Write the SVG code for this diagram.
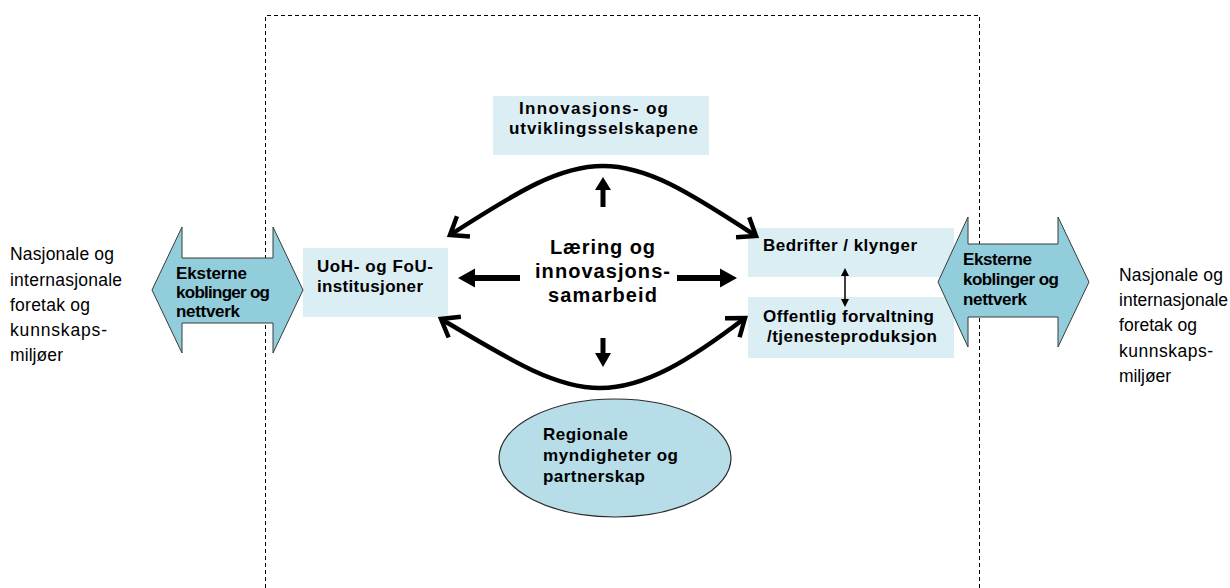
<svg xmlns="http://www.w3.org/2000/svg" width="1230" height="588" viewBox="0 0 1230 588">
  <style>
    .box { fill: #DBEEF4; stroke: none; }
    .blk { fill: #92CDDC; stroke: #3a3a3a; stroke-width: 1; }
    .ell { fill: #B6DDE8; stroke: #2a2a2a; stroke-width: 1.2; }
    .lbl { font-family: "Liberation Sans", Arial, sans-serif; font-weight: bold; font-size: 17px; fill: #000; }
    .mid { font-family: "Liberation Sans", Arial, sans-serif; font-weight: bold; font-size: 20px; fill: #000; }
    .ext { font-family: "Liberation Sans", Arial, sans-serif; font-size: 17.5px; fill: #000; }
    .frame { fill: none; stroke: #000; stroke-width: 1; stroke-dasharray: 4 3; }
    .arc { fill: none; stroke: #000; stroke-width: 4.5; marker-start: url(#chev); marker-end: url(#chev); }
    .solid { fill: #000; stroke: none; }
  </style>
  <defs>
    <marker id="chev" viewBox="-24 -15 28 30" refX="0" refY="0" markerWidth="28" markerHeight="30" markerUnits="userSpaceOnUse" orient="auto-start-reverse" overflow="visible">
      <path d="M-16,-12 L0,0 L-16,12" fill="none" stroke="#000" stroke-width="4.5" stroke-linejoin="miter"/>
    </marker>
  </defs>

  <rect width="1230" height="588" fill="#fff"/>

  <!-- regional boundary (open at the bottom) -->
  <path class="frame" d="M265.5,588 V15.5 H979.5 V588"/>

  <!-- outside actors -->
  <g id="ext-left">
    <text class="ext" x="10" y="260" textLength="104" lengthAdjust="spacing">Nasjonale og</text>
    <text class="ext" x="10" y="286" textLength="112" lengthAdjust="spacing">internasjonale</text>
    <text class="ext" x="10" y="311" textLength="80" lengthAdjust="spacing">foretak og</text>
    <text class="ext" x="10" y="336" textLength="97" lengthAdjust="spacing">kunnskaps-</text>
    <text class="ext" x="10" y="361" textLength="53" lengthAdjust="spacing">miljøer</text>
  </g>
  <g id="ext-right">
    <text class="ext" x="1119" y="281" textLength="104" lengthAdjust="spacing">Nasjonale og</text>
    <text class="ext" x="1119" y="306" textLength="109" lengthAdjust="spacing">internasjonale</text>
    <text class="ext" x="1119" y="331" textLength="78" lengthAdjust="spacing">foretak og</text>
    <text class="ext" x="1119" y="357" textLength="94" lengthAdjust="spacing">kunnskaps-</text>
    <text class="ext" x="1119" y="382" textLength="52" lengthAdjust="spacing">miljøer</text>
  </g>

  <!-- actors inside the region -->
  <g id="innovasjon">
    <rect class="box" x="493" y="96" width="216" height="59"/>
    <text class="lbl" x="519" y="114" textLength="149" lengthAdjust="spacing">Innovasjons- og</text>
    <text class="lbl" x="509" y="134" textLength="189" lengthAdjust="spacing">utviklingsselskapene</text>
  </g>
  <g id="uoh">
    <rect class="box" x="303" y="248" width="145" height="69"/>
    <text class="lbl" x="317" y="272" textLength="116" lengthAdjust="spacing">UoH- og FoU-</text>
    <text class="lbl" x="317" y="292" textLength="106" lengthAdjust="spacing">institusjoner</text>
  </g>
  <g id="bedrifter">
    <rect class="box" x="748" y="228" width="206" height="49"/>
    <text class="lbl" x="763" y="251" textLength="154" lengthAdjust="spacing">Bedrifter / klynger</text>
  </g>
  <g id="offentlig">
    <rect class="box" x="748" y="297" width="206" height="61"/>
    <text class="lbl" x="763" y="322" textLength="171" lengthAdjust="spacing">Offentlig forvaltning</text>
    <text class="lbl" x="767" y="342" textLength="170" lengthAdjust="spacing">/tjenesteproduksjon</text>
  </g>
  <g id="regionale">
    <ellipse class="ell" cx="615" cy="458" rx="116" ry="59"/>
    <text class="lbl" x="543" y="440" textLength="85" lengthAdjust="spacing">Regionale</text>
    <text class="lbl" x="543" y="461" textLength="135" lengthAdjust="spacing">myndigheter og</text>
    <text class="lbl" x="543" y="482" textLength="102" lengthAdjust="spacing">partnerskap</text>
  </g>
  <g id="laering">
    <text class="mid" x="550" y="254" textLength="105" lengthAdjust="spacing">Læring og</text>
    <text class="mid" x="535" y="278" textLength="135" lengthAdjust="spacing">innovasjons-</text>
    <text class="mid" x="548" y="302" textLength="109" lengthAdjust="spacing">samarbeid</text>
  </g>

  <!-- external links (block double arrows) -->
  <g id="links-left">
    <polygon class="blk" points="152,290 182,227 182,258 273,258 273,227 303,290 273,353 273,323 182,323 182,353"/>
    <text class="lbl" x="176" y="279" textLength="71" lengthAdjust="spacing">Eksterne</text>
    <text class="lbl" x="176" y="298" textLength="94" lengthAdjust="spacing">koblinger og</text>
    <text class="lbl" x="176" y="317" textLength="64" lengthAdjust="spacing">nettverk</text>
  </g>
  <g id="links-right">
    <polygon class="blk" points="938,282 968,217 968,244 1058,244 1058,217 1089,282 1058,347 1058,317 968,317 968,347"/>
    <text class="lbl" x="963" y="265" textLength="69" lengthAdjust="spacing">Eksterne</text>
    <text class="lbl" x="963" y="285" textLength="96" lengthAdjust="spacing">koblinger og</text>
    <text class="lbl" x="963" y="305" textLength="64" lengthAdjust="spacing">nettverk</text>
  </g>

  <!-- connectors -->
  <g id="connectors">
    <path class="arc" d="M450,235 C520,190 560,166 603,166 C646,166 686,190 756,236"/>
    <path class="arc" d="M441,319 C510,360 555,388 600,388 C645,388 690,360 745,318"/>
    <polygon class="solid" points="458,278 475,268.5 475,275 520,275 520,281 475,281 475,287.5"/>
    <polygon class="solid" points="737,278 720,268.5 720,275 677,275 677,281 720,281 720,287.5"/>
    <polygon class="solid" points="603,177 595,190 600.5,190 600.5,207 605.5,207 605.5,190 611,190"/>
    <polygon class="solid" points="603,367 595,353 600.5,353 600.5,338 605.5,338 605.5,353 611,353"/>
    <line x1="845" y1="274" x2="845" y2="301" stroke="#000" stroke-width="1.5"/>
    <polygon class="solid" points="845,268 841,276 849,276"/>
    <polygon class="solid" points="845,307 841,299 849,299"/>
  </g>
</svg>
